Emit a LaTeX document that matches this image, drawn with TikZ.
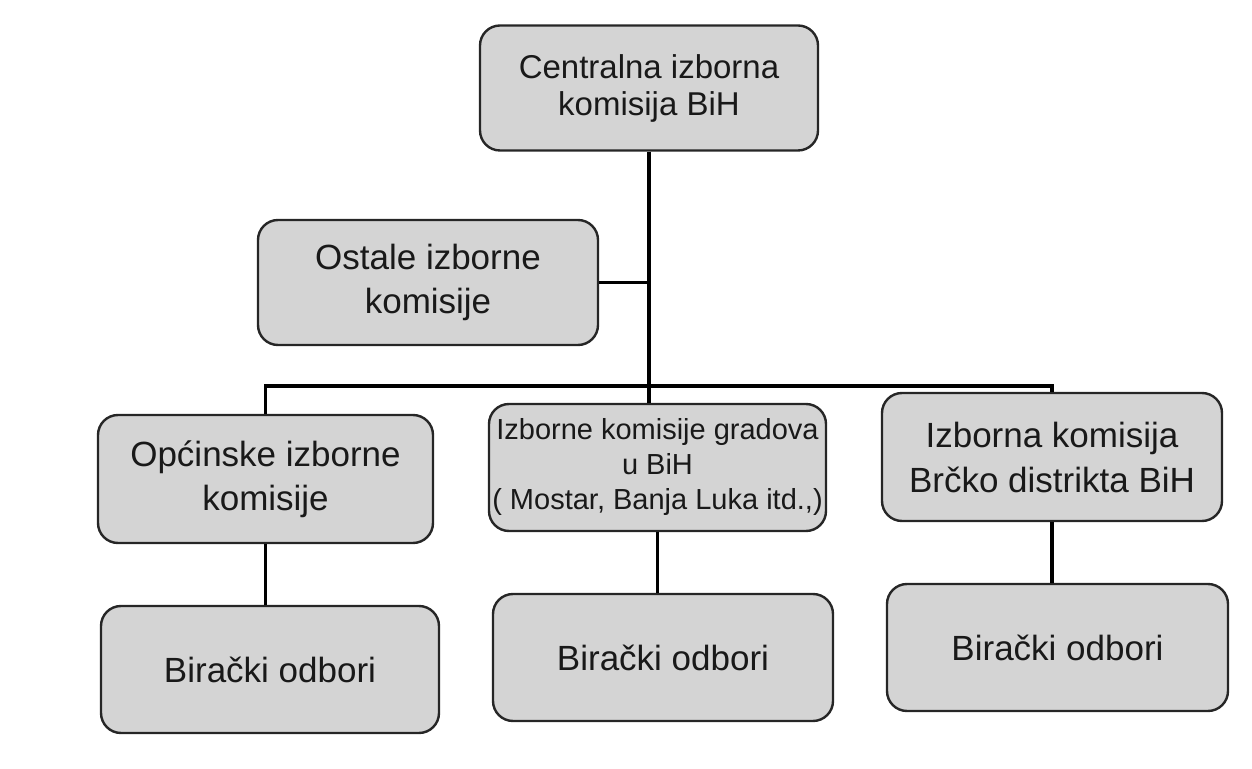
\documentclass[tikz,border=0pt]{standalone}
\usepackage{fontspec}
\setmainfont{Liberation Sans}
\definecolor{boxfill}{HTML}{D4D4D4}
\tikzset{
  orgbox/.style={draw=black!85, line width=1.2pt, fill=boxfill, rounded corners=10pt,
    align=center, inner sep=0pt, text=black!90,
    font=\fontsize{17.5}{22}\selectfont},
  link/.style={draw=black, line width=1.6pt}
}
\begin{document}
\begin{tikzpicture}[x=0.5pt,y=-0.5pt]
\useasboundingbox (0,0) rectangle (1252,769);
% nodes
\node[orgbox, minimum width=169pt, minimum height=62.5pt,
      font=\fontsize{16.5}{18.5}\selectfont] (central) at (649,88)
      {Centralna izborna\\komisija BiH};
\node[orgbox, minimum width=170pt, minimum height=62.5pt] (ostale) at (428,282.5)
      {Ostale izborne\\komisije};
\node[orgbox, minimum width=167.5pt, minimum height=64pt] (opc) at (265.5,479)
      {Općinske izborne\\komisije};
\node[orgbox, minimum width=168.5pt, minimum height=63.5pt,
      font=\fontsize{14.5}{17.5}\selectfont] (grad) at (657.5,467.5)
      {Izborne komisije gradova\\u BiH\\( Mostar, Banja Luka itd.,)};
\node[orgbox, minimum width=170pt, minimum height=64pt,
      font=\fontsize{17.5}{22.5}\selectfont] (brcko) at (1052,457)
      {Izborna komisija\\Brčko distrikta BiH};
\node[orgbox, minimum width=169pt, minimum height=63.5pt] (bo1) at (270,669.5)
      {Birački odbori};
\node[orgbox, minimum width=170pt, minimum height=63.5pt] (bo2) at (663,657.5)
      {Birački odbori};
\node[orgbox, minimum width=170.5pt, minimum height=63.5pt] (bo3) at (1057.5,647.5)
      {Birački odbori};
% bus
\coordinate (bus) at (650,386);
% connectors
\draw[link] (central.south) -- (central.south |- grad.north);
\draw[link] (ostale.east) -- (ostale.east -| central.south);
\draw[link] (opc.north) -- (opc.north |- bus) -- (brcko.north |- bus) -- (brcko.north);
\draw[link] (opc.south) -- (bo1.north -| opc.south);
\draw[link] (grad.south) -- (bo2.north -| grad.south);
\draw[link] (brcko.south) -- (bo3.north -| brcko.south);
\end{tikzpicture}
\end{document}
